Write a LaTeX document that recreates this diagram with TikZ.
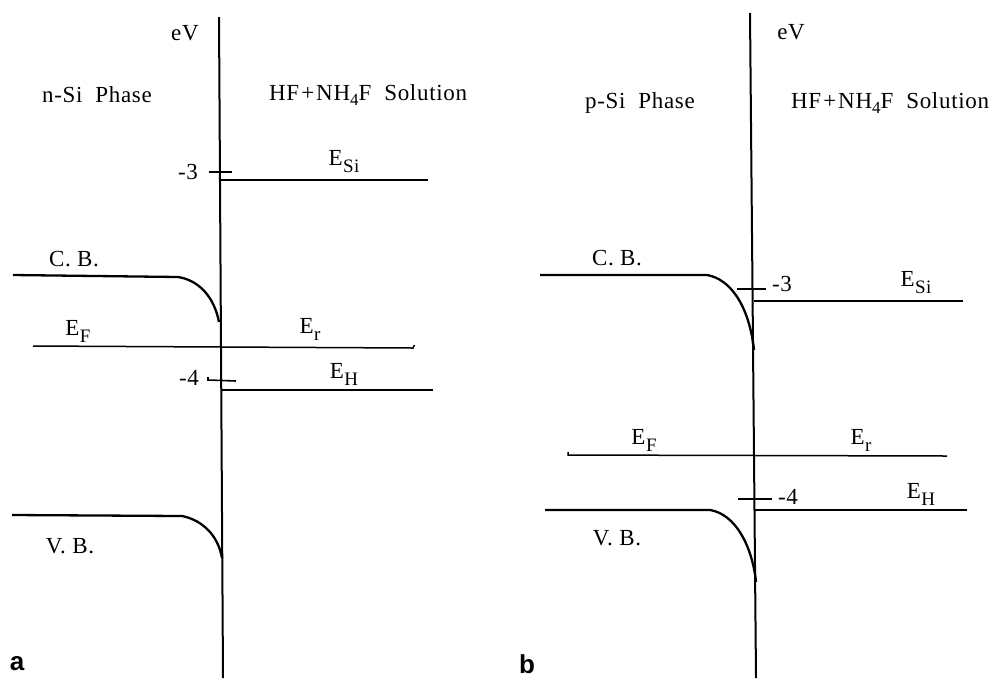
\documentclass[tikz,border=0pt]{standalone}
\usepackage{fontspec}
\setmainfont{Liberation Serif}[LetterSpace=3]
\newfontfamily\labfont{Liberation Sans}
\begin{document}
\begin{tikzpicture}[x=1pt,y=-1pt,
  txt/.style={inner sep=0pt,font=\fontsize{23}{25}\selectfont},
  panel/.style={inner sep=0pt,font=\labfont\bfseries\fontsize{26}{28}\selectfont},
  band/.style={line width=2.3pt},
  level/.style={line width=2.3pt},
  fermi/.style={line width=1.5pt},
  axis/.style={line width=2pt},
  tick/.style={line width=1.6pt}]
\newcommand{\El}[1]{E\hspace{0.5pt}\raisebox{-7pt}{\fontsize{19}{19}\selectfont #1}}
\newcommand{\Sol}{HF\hspace{2pt}+\hspace{2pt}NH\raisebox{-5pt}{\fontsize{17}{17}\selectfont 4}F~~Solution}
\useasboundingbox (0,0) rectangle (1000,681);

% ---------- panel a ----------
\coordinate (aT) at (219,17);
\coordinate (aB) at (223,678);
\draw[axis] (aT) -- (aB);
\node[txt] (aeV) at (185,33) {eV};
\node[txt] (aph) at (97,95) {n-Si~~Phase};
\node[txt,anchor=west] (asol) at (269,95) {\Sol};
% -3
\coordinate (at3a) at (209,172); \coordinate (at3b) at (232,172);
\draw[tick] (at3a) -- (at3b);
\node[txt] (am3) at (188,172) {-3};
\coordinate (aSi1) at (220,180); \coordinate (aSi2) at (428,180);
\draw[level] (aSi1) -- (aSi2);
\node[txt] (aESi) at (344,162) {\El{Si}};
% CB
\coordinate (aCB0) at (13,275); \coordinate (aCB1) at (178,277); \coordinate (aCB2) at (219,322);
\draw[band] (aCB0) -- (aCB1) .. controls (198,280) and (214,296) .. (aCB2);
\node[txt] (aCBl) at (74,259) {C.\ B.};
% EF
\coordinate (aF1) at (33,346); \coordinate (aF2) at (413,348);
\draw[fermi] (aF1) -- (aF2) -- ++(1.5,-3);
\node[txt] (aEF) at (78,331) {\El{F}};
\node[txt] (aEr) at (310,329) {\El{r}};
% -4
\coordinate (at4a) at (208,380); \coordinate (at4b) at (236,381);
\draw[tick] (208,377) -- (at4a) -- (at4b);
\node[txt] (am4) at (189,378) {-4};
\coordinate (aH1) at (222,390); \coordinate (aH2) at (433,390);
\draw[level] (aH1) -- (aH2);
\node[txt] (aEH) at (344,374) {\El{H}};
% VB
\coordinate (aVB0) at (12,515); \coordinate (aVB1) at (182,516); \coordinate (aVB2) at (222,558);
\draw[band] (aVB0) -- (aVB1) .. controls (202,520) and (218,535) .. (aVB2);
\node[txt] (aVBl) at (70,546) {V.\ B.};
\node[panel] (alab) at (17,664) {a};

% ---------- panel b ----------
\coordinate (bT) at (750,13);
\coordinate (bB) at (756,678);
\draw[axis] (bT) -- (bB);
\node[txt] (beV) at (791,32) {eV};
\node[txt] (bph) at (640,103) {p-Si~~Phase};
\node[txt,anchor=west] (bsol) at (791,103) {\Sol};
% CB
\coordinate (bCB0) at (540,275); \coordinate (bCB1) at (707,275); \coordinate (bCB2) at (754,350);
\draw[band] (bCB0) -- (bCB1) .. controls (730,279) and (749,305) .. (bCB2);
\node[txt] (bCBl) at (617,258) {C.\ B.};
% -3
\coordinate (bt3a) at (737,289); \coordinate (bt3b) at (766,289);
\draw[tick] (bt3a) -- (bt3b);
\node[txt] (bm3) at (782,284) {-3};
\coordinate (bSi1) at (754,301); \coordinate (bSi2) at (963,301);
\draw[level] (bSi1) -- (bSi2);
\node[txt] (bESi) at (916,283) {\El{Si}};
% EF
\coordinate (bF1) at (568,455); \coordinate (bF2) at (947,456);
\draw[fermi] (568,452) -- (bF1) -- (bF2);
\node[txt] (bEF) at (644,440) {\El{F}};
\node[txt] (bEr) at (861,440) {\El{r}};
% -4
\coordinate (bt4a) at (738,499); \coordinate (bt4b) at (772,499);
\draw[tick] (bt4a) -- (bt4b);
\node[txt] (bm4) at (788,497) {-4};
\coordinate (bH1) at (755,510); \coordinate (bH2) at (967,510);
\draw[level] (bH1) -- (bH2);
\node[txt] (bEH) at (921,494) {\El{H}};
% VB
\coordinate (bVB0) at (545,510); \coordinate (bVB1) at (710,510); \coordinate (bVB2) at (756,582);
\draw[band] (bVB0) -- (bVB1) .. controls (735,514) and (752,545) .. (bVB2);
\node[txt] (bVBl) at (617,538) {V.\ B.};
\node[panel] (blab) at (527,664) {b};
\end{tikzpicture}
\end{document}
